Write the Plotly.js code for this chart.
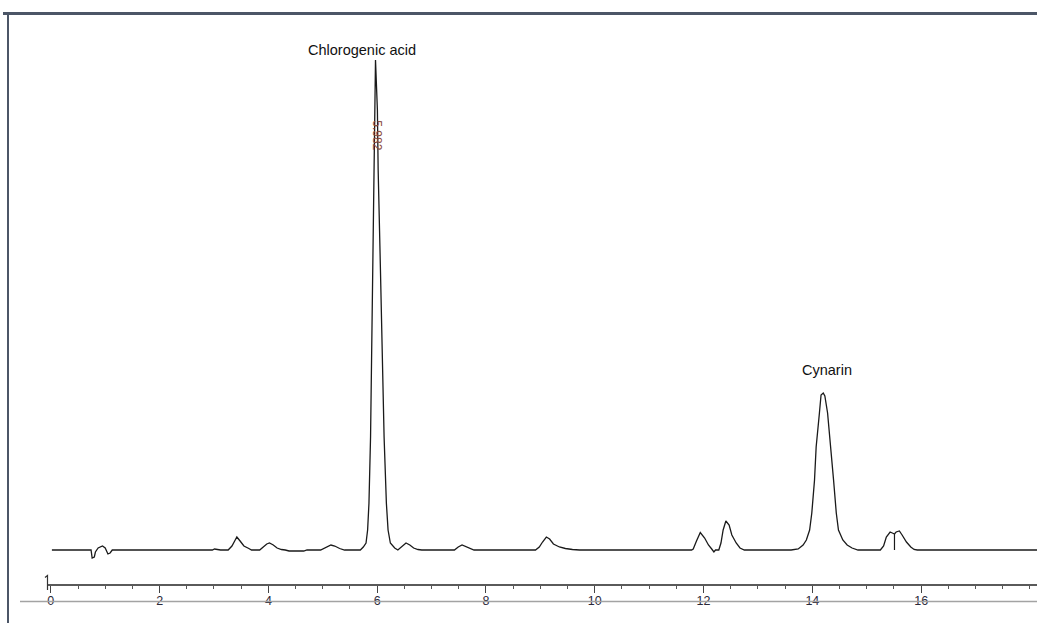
<!DOCTYPE html>
<html>
<head>
<meta charset="utf-8">
<script src="https://cdn.plot.ly/plotly-3.0.1.min.js"></script>
<style>
  html, body { margin: 0; padding: 0; background: #ffffff; }
  #chart { width: 1037px; height: 623px; }
</style>
</head>
<body>
<div id="chart"></div>
<script>
// Retention time (min)
const time = [
  0.02, 0.74, 0.76, 0.80, 0.82, 0.87, 0.95, 1.00, 1.05, 1.09, 1.13,
  2.97, 3.01, 3.12, 3.26, 3.33, 3.39, 3.42, 3.48, 3.55, 3.64, 3.69,
  3.84, 3.91, 3.97, 4.02, 4.09, 4.16, 4.24, 4.31, 4.38, 4.65, 4.71,
  4.96, 5.05, 5.15, 5.22, 5.31, 5.40,
  5.69, 5.745, 5.795, 5.824, 5.849, 5.878, 5.896, 5.909, 5.94, 5.955, 5.969,
  6.004, 6.018, 6.06, 6.096, 6.127, 6.169, 6.20, 6.242, 6.322, 6.38,
  6.45, 6.53, 6.60, 6.67, 6.75, 6.82,
  7.42, 7.49, 7.56, 7.64, 7.71, 7.78,
  8.91, 8.98, 9.04, 9.11, 9.17, 9.24, 9.35, 9.46, 9.59, 9.72,
  11.78, 11.81, 11.87, 11.94, 12.02, 12.09, 12.15, 12.19, 12.22,
  12.28, 12.32, 12.36, 12.41, 12.47, 12.52, 12.60, 12.67, 12.75,
  13.61, 13.74, 13.83, 13.89, 13.95, 13.99, 14.04, 14.07, 14.13, 14.16, 14.20,
  14.23, 14.28, 14.34, 14.39, 14.44, 14.48, 14.56, 14.64, 14.73, 14.84,
  15.25, 15.31, 15.36, 15.43, 15.49, 15.51, 15.54, 15.60, 15.65, 15.73, 15.81, 15.87, 15.93,
  18.15
];
// Detector signal (mAU, arbitrary scale)
const signal = [
  0, 0, -16, -14, -4, 4, 8, 4, -8, -6, 0,
  0, 2, 0, 0, 8, 20, 26, 18, 8, 3, 0,
  0, 6, 12, 14, 10, 4, 1, 0, -2, -2, 0,
  0, 4, 10, 8, 3, 0,
  0, 6, 14, 40, 94, 226, 360, 560, 760, 900, 980,
  880, 760, 560, 360, 226, 94, 40, 14, 4, 0,
  6, 14, 10, 4, 1, 0,
  0, 6, 10, 6, 2, 0,
  0, 6, 16, 26, 22, 12, 6, 3, 1, 0,
  0, 2, 18, 35, 24, 10, 2, -4, 0,
  0, 14, 40, 58, 50, 30, 14, 4, 0,
  0, 2, 10, 20, 40, 74, 140, 206, 274, 310, 314,
  308, 274, 206, 140, 74, 40, 20, 10, 4, 0,
  0, 8, 26, 36, 33, 32, 36, 38, 30, 16, 6, 1, 0,
  0
];

const tickValues = [0, 2, 4, 6, 8, 10, 12, 14, 16];
const tickLabels = ["0", "2", "4", "6", "8", "10", "12", "14", "16"];

const peakNames = ["Chlorogenic acid", "Cynarin"];
const peakLabelTimes = [5.72, 14.27];
const peakLabelHeights = [1000, 360];

const rtLabels = ["5.982"];
const rtLabelTimes = [5.99];
const rtLabelHeights = [830];

const dropLineTimes = [15.51];
const dropLineHeights = [32];

// pixel helpers for the frame decoration (plot area: x 47..1037, y 14..584)
const W = 1037, H = 623, L = 47, T = 14, B = 584;
const px = v => (v - L) / (W - L);
const py = v => (B - v) / (B - T);

const trace = {
  x: time,
  y: signal,
  type: 'scatter',
  mode: 'lines',
  line: { color: '#1a1a1a', width: 1.3 },
  hoverinfo: 'skip',
  showlegend: false
};

const annotations = [];
peakNames.forEach((n, i) => {
  annotations.push({
    x: peakLabelTimes[i], y: peakLabelHeights[i], xref: 'x', yref: 'y',
    text: n, showarrow: false, xanchor: 'center', yanchor: 'middle',
    font: { family: 'Liberation Sans, Arial, sans-serif', size: 14.5, color: '#111' }
  });
});
rtLabels.forEach((n, i) => {
  annotations.push({
    x: rtLabelTimes[i], y: rtLabelHeights[i], xref: 'x', yref: 'y',
    text: n, showarrow: false, textangle: 90,
    font: { family: 'Liberation Sans, Arial, sans-serif', size: 12, color: '#8b4a3a' }
  });
});

const shapes = [
  // window frame: top and left edges
  { type: 'line', xref: 'paper', yref: 'paper', x0: px(3), x1: px(1037), y0: py(13.5), y1: py(13.5),
    line: { color: '#4c5667', width: 3 } },
  { type: 'line', xref: 'paper', yref: 'paper', x0: px(8), x1: px(8), y0: py(13), y1: py(623),
    line: { color: '#4c5667', width: 2 } },
  // grey rule under the tick labels
  { type: 'line', xref: 'paper', yref: 'paper', x0: px(20), x1: px(1037), y0: py(601.5), y1: py(601.5),
    line: { color: '#a3a3a3', width: 1.5 } },
  // little start mark of the time axis
  { type: 'path', xref: 'paper', yref: 'paper',
    path: 'M ' + px(45) + ',' + py(577.5) + ' L ' + px(47.5) + ',' + py(575.5) + ' L ' + px(47.5) + ',' + py(590),
    line: { color: '#333', width: 1.2 } }
];
dropLineTimes.forEach((t, i) => {
  shapes.push({ type: 'line', xref: 'x', yref: 'y', x0: t, x1: t, y0: 0, y1: dropLineHeights[i],
    line: { color: '#1a1a1a', width: 1.2 } });
});

const layout = {
  width: W, height: H,
  margin: { l: L, r: 0, t: T, b: H - B, pad: 0 },
  paper_bgcolor: '#ffffff',
  plot_bgcolor: '#ffffff',
  showlegend: false,
  xaxis: {
    range: [-0.07, 18.13],
    showgrid: false, zeroline: false,
    showline: true, linecolor: '#5a5a5a', linewidth: 1.5,
    ticks: 'outside', ticklen: 7, tickwidth: 1, tickcolor: '#444',
    ticklabelstandoff: -3,
    tickmode: 'array', tickvals: tickValues, ticktext: tickLabels,
    tickfont: { family: 'Liberation Sans, Arial, sans-serif', size: 12.5, color: '#2a2838' },
    minor: { tick0: 0, dtick: 0.5, ticks: 'outside', ticklen: 3, tickwidth: 1, tickcolor: '#555', showgrid: false },
    fixedrange: true
  },
  yaxis: {
    visible: false,
    range: [-68, 1072],
    fixedrange: true
  },
  annotations: annotations,
  shapes: shapes
};

Plotly.newPlot('chart', [trace], layout, { displayModeBar: false, staticPlot: true });
</script>
</body>
</html>
